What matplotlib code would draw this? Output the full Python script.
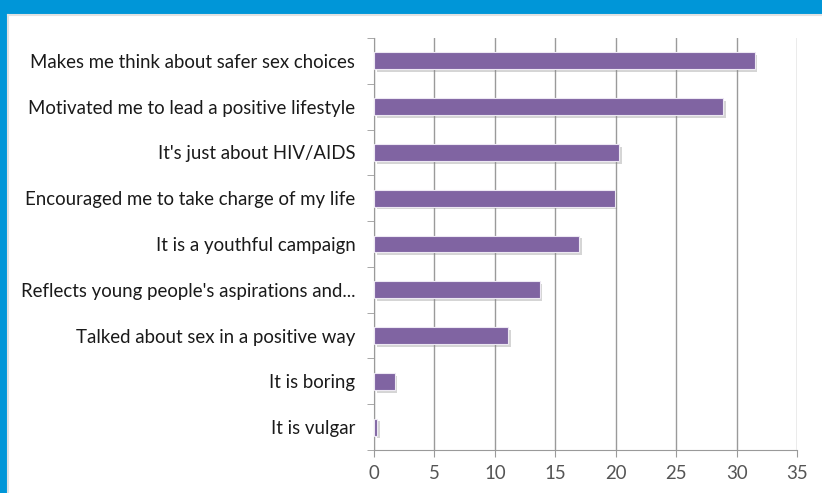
import matplotlib
matplotlib.use("Agg")
import matplotlib.pyplot as plt
import matplotlib.patches as mpatches
import matplotlib.lines as mlines
import matplotlib.patheffects as pe

categories = [
    "Makes me think about safer sex choices",
    "Motivated me to lead a positive lifestyle",
    "It's just about HIV/AIDS",
    "Encouraged me to take charge of my life",
    "It is a youthful campaign",
    "Reflects young people's aspirations and...",
    "Talked about sex in a positive way",
    "It is boring",
    "It is vulgar",
]
values = [31.5, 28.9, 20.3, 19.9, 17.0, 13.7, 11.1, 1.7, 0.25]
xticks = [0, 5, 10, 15, 20, 25, 30, 35]

W, H = 822, 493
fig = plt.figure(figsize=(W / 100, H / 100), dpi=100)
fig.patch.set_facecolor("white")

# blue frame along the top and left edges, with a faint inner border
frame_blue = "#0096D8"
fig.patches.append(mpatches.Rectangle((0, 1 - 14 / H), 1, 14 / H, transform=fig.transFigure,
                                      facecolor=frame_blue, edgecolor="none", zorder=0))
fig.patches.append(mpatches.Rectangle((0, 0), 7 / W, 1, transform=fig.transFigure,
                                      facecolor=frame_blue, edgecolor="none", zorder=0))
fig.lines.append(mlines.Line2D([7.5 / W, 1], [1 - 15 / H, 1 - 15 / H], transform=fig.transFigure,
                               color="#E2E2E2", linewidth=1.5))
fig.lines.append(mlines.Line2D([8 / W, 8 / W], [0, 1 - 15 / H], transform=fig.transFigure,
                               color="#E2E2E2", linewidth=1.5))

ax = fig.add_axes([374 / W, 1 - 450 / H, (797 - 374) / W, (450 - 38) / H])
ax.set_facecolor("white")

n = len(categories)
ypos = list(range(n))[::-1]
bars = ax.barh(ypos, values, height=0.37, color="#8064A2", edgecolor="#EDE8F3",
               linewidth=0.8, zorder=3)
for b in bars:
    b.set_path_effects([pe.SimplePatchShadow(offset=(2, -2), shadow_rgbFace="#888888", alpha=0.35),
                        pe.Normal()])

ax.set_xlim(0, 35)
ax.set_ylim(-0.5, n - 0.5)
ax.set_xticks(xticks)
ax.set_xticklabels([str(t) for t in xticks])
ax.set_yticks(ypos)
ax.set_yticklabels(categories)
ax.set_yticks([i - 0.5 for i in range(n + 1)], minor=True)

ax.grid(axis="x", color="#9A9A9A", linewidth=1.0, zorder=0)
ax.set_axisbelow(True)

for s in ["top", "right"]:
    ax.spines[s].set_visible(False)
ax.spines["left"].set_color("#9A9A9A")
ax.spines["bottom"].set_color("#9A9A9A")

ax.tick_params(axis="y", which="major", length=0, pad=13.5, labelsize=13.4, labelcolor="#1a1a1a")
ax.tick_params(axis="y", which="minor", length=5, color="#9A9A9A", direction="out")
ax.tick_params(axis="x", length=5, color="#9A9A9A", pad=6, labelsize=13.4, labelcolor="#555555")

for lab in ax.get_yticklabels() + ax.get_xticklabels():
    lab.set_family(["Lato", "DejaVu Sans"])

fig.savefig("out.png", dpi=100)
